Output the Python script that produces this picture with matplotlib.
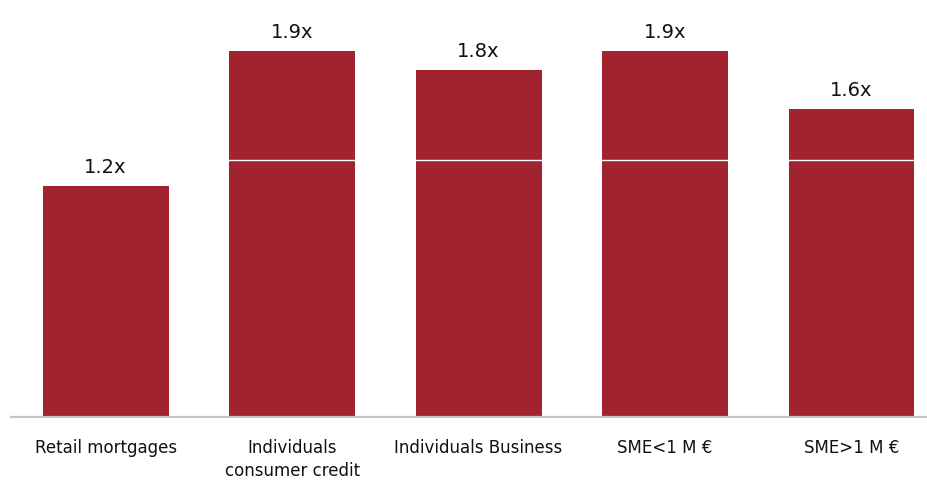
import matplotlib.pyplot as plt

# Loan segments and their multiples
categories = ['Retail mortgages', 'Individuals\nconsumer credit', 'Individuals Business',
              'SME<1 M €', 'SME>1 M €']
multiples = [1.2, 1.9, 1.8, 1.9, 1.6]
value_labels = ['1.2x', '1.9x', '1.8x', '1.9x', '1.6x']
reference_level = 1.335

bar_color = '#A0232F'

fig = plt.figure(figsize=(9.28, 4.81), dpi=100)
ax = fig.add_axes([0.0119, 0.131, 0.9881, 0.869])

x = range(len(categories))
bars = ax.bar(x, multiples, width=0.675, color=bar_color, zorder=2)

# thin white line cutting across the bars
ax.axhline(reference_level, color='white', linewidth=1.0, zorder=3)

for bar, lab in zip(bars, value_labels):
    ax.annotate(lab, (bar.get_x() + bar.get_width() / 2, bar.get_height()),
                xytext=(0, 7.5), textcoords='offset points',
                ha='center', va='bottom', fontsize=14, color='#111111')

ax.set_xlim(-0.507, 4.41)
ax.set_ylim(0, 2.1714)
ax.set_xticks(list(x))
ax.set_xticklabels(categories, fontsize=12, color='#111111', linespacing=1.4)
ax.tick_params(axis='x', length=0, pad=15)
ax.set_yticks([])

for side in ['top', 'right', 'left']:
    ax.spines[side].set_visible(False)
ax.spines['bottom'].set_color('#c4c4c4')
ax.spines['bottom'].set_linewidth(1.6)

fig.savefig('out.png', dpi=100)
